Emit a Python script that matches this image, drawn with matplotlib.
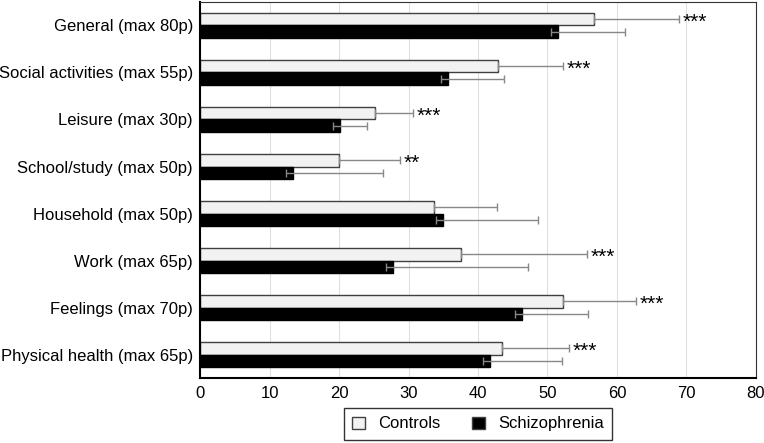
import numpy as np
import matplotlib.pyplot as plt

plt.rcParams['font.family'] = ['Liberation Sans', 'DejaVu Sans']

categories = ['General (max 80p)', 'Social activities (max 55p)', 'Leisure (max 30p)',
              'School/study (max 50p)', 'Household (max 50p)', 'Work (max 65p)',
              'Feelings (max 70p)', 'Physical health (max 65p)']
controls = [56.7, 42.9, 25.2, 20.0, 33.7, 37.6, 52.2, 43.4]
controls_sd = [12.2, 9.3, 5.4, 8.8, 9.1, 18.1, 10.6, 9.7]
schizo = [51.5, 35.7, 20.1, 13.4, 34.9, 27.7, 46.3, 41.7]
schizo_sd = [9.6, 8.1, 4.0, 13.0, 13.8, 19.5, 9.5, 10.4]
stars = ['***', '***', '***', '**', '', '***', '***', '***']

fig = plt.figure(figsize=(7.64, 4.43), dpi=100)
ax = fig.add_axes([0.2618, 0.1467, 0.9895 - 0.2618, 0.9955 - 0.1467])

y = np.arange(len(categories))
h = 0.27
err_kw = dict(ecolor='#888888', elinewidth=1, capsize=3, capthick=1)

ax.barh(y - h / 2, controls, height=h, color='#f2f2f2', edgecolor='#404040',
        linewidth=1, label='Controls', zorder=2)
ax.errorbar(controls, y - h / 2, xerr=[np.zeros(len(y)), controls_sd],
            fmt='none', zorder=3, **err_kw)
ax.barh(y + h / 2, schizo, height=h, color='black', edgecolor='black',
        linewidth=1, label='Schizophrenia', zorder=2)
ax.errorbar(schizo, y + h / 2, xerr=[np.ones(len(y)), schizo_sd],
            fmt='none', zorder=3, **err_kw)

# significance stars next to the controls error bars
for i, s in enumerate(stars):
    if s:
        ax.text(controls[i] + controls_sd[i] + 0.5, y[i] - h / 2 + 0.07, s,
                fontsize=15, va='center', ha='left')

ax.set_xlim(0, 80)
ax.set_ylim(len(categories) - 0.5, -0.5)
ax.set_xticks(np.arange(0, 81, 10))
ax.set_yticks(y)
ax.set_yticklabels(categories)
ax.tick_params(length=0, labelsize=12, pad=6)
ax.tick_params(axis='y', pad=5)
ax.grid(axis='x', color='#e0e0e0', linewidth=0.8, zorder=0)
ax.set_axisbelow(True)

for side in ['top', 'right']:
    ax.spines[side].set_color('#333333')
    ax.spines[side].set_linewidth(0.8)
for side in ['left', 'bottom']:
    ax.spines[side].set_color('black')
    ax.spines[side].set_linewidth(1.5)

leg = ax.legend(loc='upper center', bbox_to_anchor=(0.5, -0.08), ncol=2,
                frameon=True, fancybox=False, edgecolor='black', fontsize=12,
                handlelength=0.75, handleheight=0.75, columnspacing=1.9,
                borderpad=0.5, handletextpad=0.8, borderaxespad=0)
leg.get_frame().set_linewidth(1)
for p in leg.get_patches():
    p.set_edgecolor('#404040')

fig.savefig('out.png', dpi=100)
